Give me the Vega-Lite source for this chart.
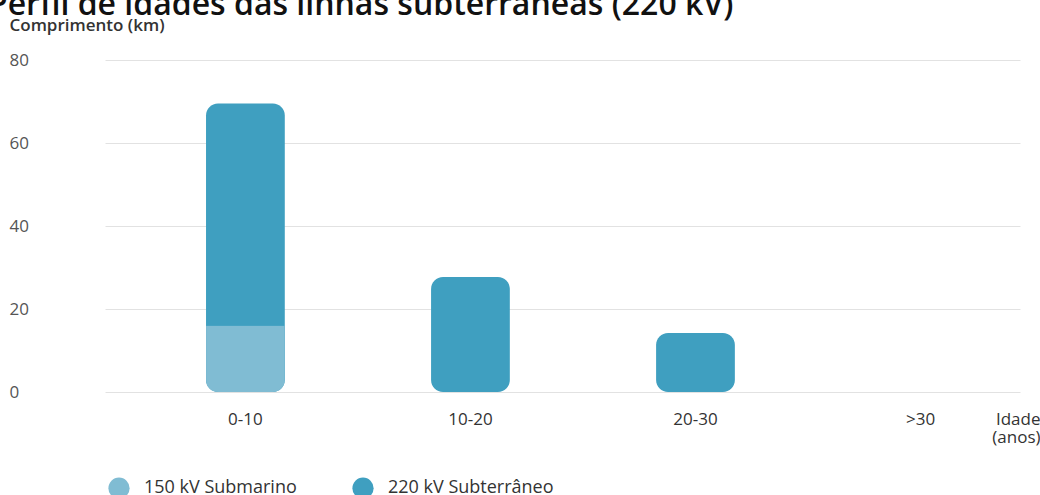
{
  "$schema": "https://vega.github.io/schema/vega-lite/v6.json",
  "width": 915,
  "height": 332,
  "autosize": {"type": "none"},
  "padding": {"left": 105, "top": 60, "right": 20, "bottom": 103},
  "background": "white",
  "title": {
    "text": "Perfil de idades das linhas subterrâneas (220 kV)",
    "anchor": "start",
    "frame": "group",
    "font": "Open Sans",
    "fontSize": 32,
    "fontWeight": 600,
    "color": "#111111",
    "baseline": "alphabetic",
    "offset": 0,
    "dx": -117,
    "dy": 31
  },
  "config": {
    "font": "Open Sans",
    "view": {"stroke": null}
  },
  "data": {
    "values": [
      {"idade": "0-10", "serie": "150 kV Submarino", "valor": 16},
      {"idade": "0-10", "serie": "220 kV Subterrâneo", "valor": 53.5},
      {"idade": "10-20", "serie": "220 kV Subterrâneo", "valor": 27.7},
      {"idade": "20-30", "serie": "220 kV Subterrâneo", "valor": 14.2}
    ]
  },
  "encoding": {
    "x": {
      "field": "idade",
      "type": "nominal",
      "sort": null,
      "scale": {"domain": ["0-10", "10-20", "20-30", ">30"], "paddingInner": 0.65, "paddingOuter": 0.358, "align": 0.627},
      "axis": {
        "labelAngle": 0,
        "domain": false,
        "ticks": false,
        "labelPadding": 19,
        "labelFontSize": 17,
        "labelFontWeight": 500,
        "labelColor": "#333333",
        "title": ["Idade", "(anos)"],
        "titleX": 935,
        "titleY": 19,
        "titleAlign": "right",
        "titleBaseline": "top",
        "titleFontSize": 17,
        "titleFontWeight": 500,
        "titleColor": "#333333",
        "titleLineHeight": 18
      }
    }
  },
  "layer": [
    {
      "mark": {"type": "bar", "cornerRadius": 12},
      "encoding": {
        "y": {
          "aggregate": "sum",
          "field": "valor",
          "type": "quantitative",
          "scale": {"domain": [0, 80], "nice": false},
          "axis": {
            "values": [0, 20, 40, 60, 80],
            "grid": true,
            "gridColor": "#e2e2e2",
            "domain": false,
            "ticks": false,
            "labelAlign": "left",
            "labelPadding": 96,
            "labelFontSize": 17,
            "labelColor": "#555555",
            "title": "Comprimento (km)",
            "titleAngle": 0,
            "titleAlign": "left",
            "titleBaseline": "middle",
            "titleX": -96,
            "titleY": -35,
            "titleFontSize": 17,
            "titleFontWeight": 600,
            "titleColor": "#333333"
          }
        },
        "color": {
          "datum": "220 kV Subterrâneo",
          "type": "nominal",
          "scale": {"domain": ["150 kV Submarino", "220 kV Subterrâneo"], "range": ["#80bcd3", "#3f9fc0"]},
          "legend": {
            "orient": "none",
            "legendX": 3,
            "legendY": 417,
            "direction": "horizontal",
            "title": null,
            "padding": 0,
            "symbolType": "circle",
            "symbolSize": 450,
            "symbolStrokeWidth": 0,
            "labelFontSize": 18,
            "labelFontWeight": 500,
            "labelColor": "#333333",
            "labelOffset": 14,
            "labelLimit": 300,
            "columnPadding": 55
          }
        }
      }
    },
    {
      "transform": [{"filter": "datum.serie === '150 kV Submarino'"}],
      "mark": {"type": "bar", "cornerRadiusBottomLeft": 12, "cornerRadiusBottomRight": 12},
      "encoding": {
        "y": {"field": "valor", "type": "quantitative"},
        "color": {"field": "serie", "type": "nominal", "legend": {"title": null}}
      }
    }
  ]
}
